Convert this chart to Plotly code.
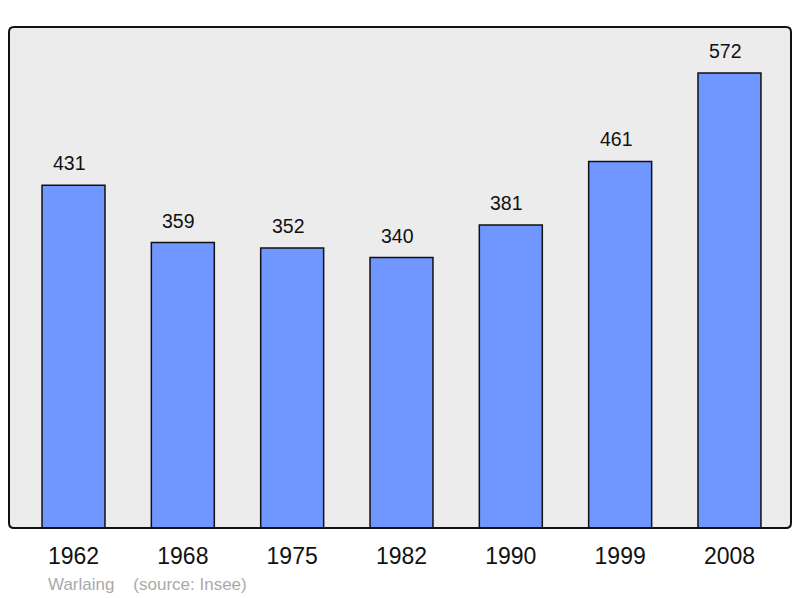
import plotly.graph_objects as go

years = ["1962", "1968", "1975", "1982", "1990", "1999", "2008"]
population = [431, 359, 352, 340, 381, 461, 572]
positions = list(range(len(years)))

# page has an 8px body margin; figure sized so the plot area lands at x 9..791, y 27..528
W, H = 784, 590
L, R, T, B = 1, 1, 19, 70
OFF = 8

fig = go.Figure()
fig.add_trace(go.Bar(
    x=positions, y=population, width=0.576,
    marker=dict(color="#7096ff", line=dict(color="#111111", width=1.5)),
    hoverinfo="skip",
))

for xp, v in zip(positions, population):
    fig.add_annotation(x=xp, y=v, text=str(v), showarrow=False, yshift=22, xshift=-4,
                       font=dict(size=19.5, color="#111111"))

pw, ph = W - L - R, H - T - B
fig.add_annotation(xref="paper", yref="paper", x=(46 - OFF - L) / pw,
                   y=-(584 - OFF - (H - B)) / ph,
                   xanchor="left", yanchor="middle", showarrow=False,
                   text="Warlaing\u00a0\u00a0\u00a0 (source: Insee)", font=dict(size=17, color="#aaaaaa"))

# rounded border
rx, ry = 5 / pw, 5 / ph
path = (f"M {rx},0 L {1-rx},0 Q 1,0 1,{ry} L 1,{1-ry} Q 1,1 {1-rx},1 "
        f"L {rx},1 Q 0,1 0,{1-ry} L 0,{ry} Q 0,0 {rx},0 Z")
fig.add_shape(type="path", xref="paper", yref="paper", path=path,
              line=dict(color="#111111", width=2), layer="above")

fig.update_layout(
    width=W, height=H,
    margin=dict(l=L, r=R, t=T, b=B),
    paper_bgcolor="white", plot_bgcolor="#ececec",
    font=dict(family="Liberation Sans, Arial, sans-serif", color="#111111"),
    showlegend=False,
    xaxis=dict(range=[-0.59, 6.5627], tickvals=positions, ticktext=years,
               tickfont=dict(size=23, color="#111111"), showgrid=False, zeroline=False,
               ticks="", ticklabelstandoff=12, fixedrange=True),
    yaxis=dict(range=[0, 630], showgrid=False, zeroline=False, showticklabels=False,
               ticks="", fixedrange=True),
)

fig.write_html("out.html")
